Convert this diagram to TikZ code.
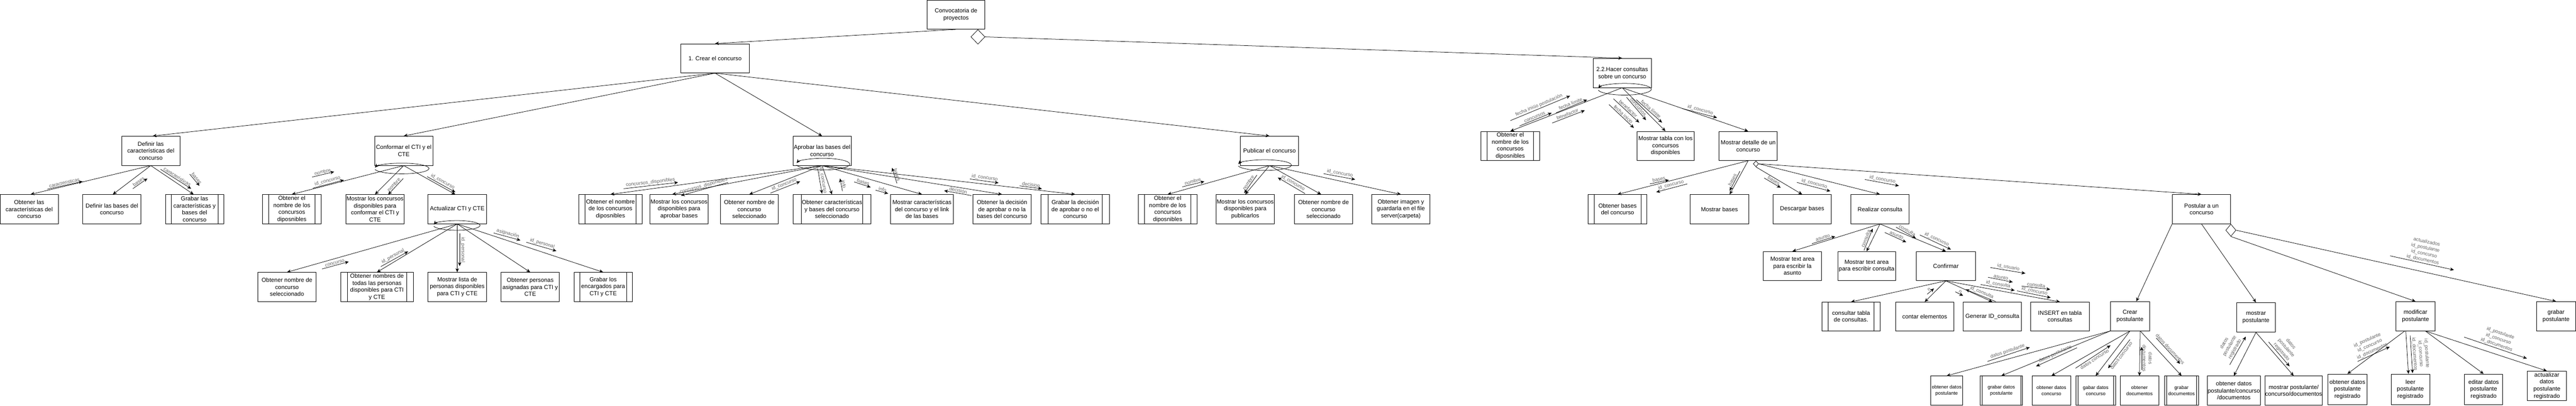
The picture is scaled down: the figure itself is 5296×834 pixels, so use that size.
\documentclass[tikz,border=0pt]{standalone}
\usepackage{fontspec}
\setmainfont{Liberation Sans}
\usetikzlibrary{arrows.meta,shapes.geometric}
\tikzset{
  box/.style={draw, line width=0.8pt, align=center, inner sep=0pt, font=\fontsize{12}{14.4}\selectfont},
  sbox/.style={box, font=\fontsize{10}{13}\selectfont},
  proc/.style={box, path picture={\draw[line width=0.8pt] ([xshift=#1]path picture bounding box.north west) -- ([xshift=#1]path picture bounding box.south west) ([xshift=-#1]path picture bounding box.north east) -- ([xshift=-#1]path picture bounding box.south east);}},
  proc/.default=12pt,
  conn/.style={line width=0.8pt, -{Stealth[length=8pt,width=7pt,inset=2.5pt]}},
  flowarr/.style={line width=0.8pt, -{Stealth[length=8pt,width=7pt,inset=2.5pt]}},
  flowrev/.style={line width=0.8pt, {Stealth[length=8pt,width=7pt,inset=2.5pt]}-},
  flowlbl/.style={font=\fontsize{10}{12.5}\selectfont, text=black!62, inner sep=1.5pt, align=center},
  dia/.style={diamond, draw, line width=0.8pt, inner sep=0pt, fill=white, anchor=north},
}
\NewDocumentCommand\mkbox{O{box} m m m m m m}{%
  \pgfmathsetmacro\bxcx{(#3+#5)/2}%
  \pgfmathsetmacro\bxcy{(#4+#6)/2}%
  \pgfmathsetmacro\bxw{#5-#3}%
  \pgfmathsetmacro\bxh{#6-#4}%
  \node[#1, minimum width=\bxw pt, minimum height=\bxh pt] (#2) at (\bxcx,\bxcy) {#7};}
\NewDocumentCommand\flw{O{flowarr} O{} m m m m}{%
  \coordinate (#3a) at (#4); \coordinate (#3b) at (#5);
  \draw[#1] (#3a) -- node[flowlbl, sloped, above, #2] {#6} (#3b);}
\NewDocumentCommand\iter{m m m m m}{%
  \draw[flowarr] ([shift={(#2,#3)}]#1.south) ++(170:#4 and #5) arc[start angle=170, end angle=-170, x radius=#4, y radius=#5];}
\begin{document}
\begin{tikzpicture}[x=1pt, y=-1pt]
\useasboundingbox (0,0) rectangle (5296,834);
% ---------- boxes ----------
\mkbox{root}{1906}{0}{2025}{60}{Convocatoria de\\proyectos}
\mkbox{crear}{1400}{90}{1540}{150}{1. Crear el concurso}
\mkbox{defcar}{250}{280}{370}{340}{Definir las\\características del\\concurso}
\mkbox{obtcar}{0}{400}{120}{460}{Obtener las\\características del\\concurso}
\mkbox{defbas}{170}{400}{290}{460}{Definir las bases del\\concurso}
\mkbox[proc]{grabcar}{340}{400}{460}{460}{Grabar las\\características y\\bases del\\concurso}
\mkbox{conf}{770}{280}{890}{340}{Conformar el CTI y el\\CTE}
\mkbox[proc]{confobt}{540}{400}{660}{460}{Obtener el\\nombre de los\\concursos\\diposnibles}
\mkbox{confmos}{711}{400}{831}{460}{Mostrar los concursos\\disponibles para\\conformar el CTI y\\CTE}
\mkbox{act}{880}{400}{1000}{460}{Actualizar CTI y CTE}
\mkbox{actobt}{530}{560}{650}{620}{Obtener nombre de\\concurso\\seleccionado}
\mkbox[proc=14pt]{actnom}{700}{560}{850}{620}{Obtener nombres de\\todas las personas\\disponibles para CTI\\y CTE}
\mkbox{actmos}{880}{560}{1000}{620}{Mostrar lista de\\personas disponibles\\para CTI y CTE}
\mkbox{actasg}{1030}{560}{1150}{620}{Obtener personas\\asignadas para CTI y\\CTE}
\mkbox[proc]{actgrab}{1180}{560}{1300}{620}{Grabar los\\encargados para\\CTI y CTE}
\mkbox{apr}{1630}{280}{1750}{340}{Aprobar las bases del\\concurso}
\mkbox[proc=13pt]{aprobt}{1190}{400}{1320}{460}{Obtener el nombre\\de los concursos\\diposnibles}
\mkbox{aprmos}{1336}{400}{1456}{460}{Mostrar los concursos\\disponibles para\\aprobar bases}
\mkbox{aprsel}{1481}{400}{1600}{460}{Obtener nombre de\\concurso\\seleccionado}
\mkbox[proc=16pt]{aprcar}{1631}{400}{1790}{460}{Obtener características\\y bases del concurso\\seleccionado}
\mkbox{aprmcar}{1831}{400}{1960}{460}{Mostrar características\\del concurso y el link\\de las bases}
\mkbox{aprdec}{2000}{400}{2120}{460}{Obtener la decisión\\de aprobar o no la\\bases del concurso}
\mkbox[proc=15pt]{aprgrab}{2140}{400}{2281}{460}{Grabar la decisión\\de aprobar o no el\\concurso}
\mkbox{pub}{2550}{280}{2670}{340}{Publicar el concurso}
\mkbox[proc=13pt]{pubobt}{2340}{400}{2461}{460}{Obtener el\\nombre de los\\concursos\\diposnibles}
\mkbox{pubmos}{2500}{400}{2620}{460}{Mostrar los concursos\\disponibles para\\publicarlos}
\mkbox{pubsel}{2661}{400}{2781}{460}{Obtener nombre de\\concurso\\seleccionado}
\mkbox{pubimg}{2820}{400}{2940}{460}{Obtener imagen y\\guardarla en el file\\server(carpeta)}
\mkbox{hac}{3275}{120}{3395}{180}{2.2.Hacer consultas\\sobre un concurso}
\mkbox[proc]{hacobt}{3045}{270}{3165}{330}{Obtener el\\nombre de los\\concursos\\diposnibles}
\mkbox{hactab}{3365}{270}{3483}{330}{Mostrar tabla con los\\concursos\\disponibles}
\mkbox{det}{3534}{270}{3654}{330}{Mostrar detalle de un\\concurso}
\mkbox[proc]{detobt}{3265}{400}{3386}{460}{Obtener bases\\del concurso}
\mkbox{detmos}{3475}{400}{3595}{460}{Mostrar bases}
\mkbox{detdes}{3645}{400}{3765}{460}{Descargar bases}
\mkbox{rea}{3805}{400}{3925}{460}{Realizar consulta}
\mkbox{reaasu}{3625}{517}{3745}{577}{Mostrar text area\\para escribir la\\asunto}
\mkbox{reacon}{3778}{517}{3897}{577}{Mostrar text area\\para escribir consulta}
\mkbox{cnf}{3940}{517}{4061}{577}{Confirmar}
\mkbox[proc]{cnftab}{3746}{621}{3865}{680}{consultar tabla\\de consultas.}
\mkbox{cnfcnt}{3897}{621}{4017}{680}{contar elementos}
\mkbox{cnfgen}{4036}{621}{4156}{680}{Generar ID\_consulta}
\mkbox{cnfins}{4175}{621}{4295}{680}{INSERT en tabla\\consultas}
\mkbox{pos}{4466}{400}{4586}{460}{Postular a un\\concurso}
\mkbox{crp}{4339}{620}{4419}{680}{Crear\\postulante}
\mkbox{mop}{4598}{622}{4678}{683}{mostrar\\postulante}
\mkbox{mod}{4926}{620}{5006}{680}{modificar\\postulante}
\mkbox{grp}{5215}{620}{5295}{680}{grabar\\postulante}
\mkbox[sbox]{crp1}{3969}{773}{4035}{833}{obtener datos\\postulante}
\mkbox[proc=4pt,sbox]{crp2}{4071}{773}{4158}{833}{grabar datos\\postulante}
\mkbox[sbox]{crp3}{4178}{773}{4257}{833}{obtener datos\\concurso}
\mkbox[proc=4pt,sbox]{crp4}{4268}{773}{4349}{833}{gabar datos\\concurso}
\mkbox[sbox]{crp5}{4359}{773}{4438}{833}{obtener\\documentos}
\mkbox[proc=4pt,sbox]{crp6}{4450}{773}{4520}{833}{grabar\\documentos}
\mkbox{mop1}{4538}{773}{4647}{833}{obtener datos\\postulante/concurso\\/documentos}
\mkbox{mop2}{4658}{773}{4773}{833}{mostrar postulante/\\concurso/documentos}
\mkbox{mod1}{4786}{769}{4866}{832}{obtener datos\\postulante\\registrado}
\mkbox{mod2}{4916}{769}{4995}{832}{leer\\postulante\\registrado}
\mkbox{mod3}{5067}{769}{5145}{832}{editar datos\\postulante\\registrado}
\mkbox{mod4}{5196}{763}{5276}{823}{actualizar\\datos\\postulante\\registrado}
% diamonds
\node[dia, minimum width=29pt, minimum height=30pt] (rd) at ([xshift=45pt]root.south) {};
\node[dia, minimum width=11pt, minimum height=12pt] (dd) at ([xshift=16pt]det.south) {};
\node[dia, minimum width=21pt, minimum height=25pt] (pd) at (pos.south east) {};
% ---------- connectors ----------
\draw[conn] (root.south) -- (crear.north);
\draw[conn] (rd.east) -- (hac.north);
\draw[conn] (crear.south) -- ([xshift=4pt]defcar.north);
\draw[conn] (crear.south) -- (conf.north);
\draw[conn] (crear.south) -- (apr.north);
\draw[conn] (crear.south) -- (pub.north);
\draw[conn] (defcar.south) -- ([xshift=3pt]obtcar.north);
\draw[conn] (defcar.south) -- ([xshift=2pt]defbas.north);
\draw[conn] (defcar.south) -- ([xshift=-2pt]grabcar.north);
\draw[conn] (conf.south) -- (confobt.north);
\draw[conn] (conf.south) -- (confmos.north);
\draw[conn] (conf.south) -- ([xshift=-4pt]act.north);
\draw[conn] (act.south) -- (actobt.north);
\draw[conn] (act.south) -- (actnom.north);
\draw[conn] (act.south) -- (actmos.north);
\draw[conn] (act.south) -- (actasg.north);
\draw[conn] (act.south) -- (actgrab.north);
\draw[conn] (apr.south) -- (aprobt.north);
\draw[conn] (apr.south) -- ([xshift=-14pt]aprmos.north);
\draw[conn] (apr.south) -- (aprsel.north);
\draw[conn] (apr.south) -- (aprcar.north);
\draw[conn] (apr.south) -- (aprmcar.north);
\draw[conn] (apr.south) -- (aprdec.north);
\draw[conn] (apr.south) -- (aprgrab.north);
\draw[conn] (pub.south) -- (pubobt.north);
\draw[conn] (pub.south) -- (pubmos.north);
\draw[conn] (pub.south) -- ([xshift=-5pt]pubsel.north);
\draw[conn] (pub.south) -- (pubimg.north);
\draw[conn] (hac.south) -- (hacobt.north);
\draw[conn] (hac.south) -- (hactab.north);
\draw[conn] (hac.south) -- (det.north);
\draw[conn] (det.south) -- (detobt.north);
\draw[conn] (det.south) -- ([xshift=21pt]detmos.north);
\draw[conn] (dd.south) -- (detdes.north);
\draw[conn] (dd.east) -- (rea.north);
\draw[conn] (dd.east) -- (pos.north);
\draw[conn] (rea.south) -- (reaasu.north);
\draw[conn] (rea.south) -- (reacon.north);
\draw[conn] (rea.south) -- (cnf.north);
\draw[conn] (cnf.south) -- (cnftab.north);
\draw[conn] (cnf.south) -- (cnfcnt.north);
\draw[conn] (cnf.south) -- (cnfgen.north);
\draw[conn] (cnf.south) -- (cnfins.north);
\draw[conn] (pos.south west) -- ([xshift=13pt]crp.north);
\draw[conn] (pos.south) -- (mop.north);
\draw[conn] (pd.south) -- (mod.north);
\draw[conn] (pd.east) -- (grp.north);
\draw[conn] (crp.south west) -- (crp1.north);
\draw[conn] (crp.south west) -- (crp2.north);
\draw[conn] (crp.south) -- (crp3.north);
\draw[conn] (crp.south) -- (crp4.north);
\draw[conn] ([xshift=21pt]crp.south) -- (crp5.north);
\draw[conn] ([xshift=21pt]crp.south) -- (crp6.north);
\draw[conn] (mop.south) -- (mop1.north);
\draw[conn] (mop.south) -- (mop2.north);
\draw[conn] ([xshift=-22pt]mod.south) -- (mod1.north);
\draw[conn] ([xshift=-20pt]mod.south) -- ([xshift=-4pt]mod2.north);
\draw[conn] ([xshift=20pt]mod.south) -- (mod3.north);
\draw[conn] ([xshift=20pt]mod.south) -- (mod4.north);
% ---------- iteration loops ----------
\iter{conf}{-4}{6}{56}{11}
\iter{act}{-1}{3}{48}{10}
\iter{apr}{2}{-3}{55}{12}
\iter{pub}{-10}{-1}{55}{11}
\iter{hac}{5}{3}{55}{12}
% ---------- data flows ----------
\flw{fa}{97,389}{170,373}{caracteristicas}
\flw{fb}{273,388}{303,367}{bases}
\flw{fc}{330,348}{393,388}{caracteristicas}
\flw{fd}{390,358}{410,382}{bases}
\flw{fe}{642,364}{687,353}{nombre}
\flw{ff}{643,387}{707,370}{id\_concurso}
\flw{fg}{829,367}{798,400}{nombre}
\flw{fh}{878,363}{936,395}{id\_concurso}
\flw{fi}{662,553}{717,538}{concurso}
\flw{fj}{783,548}{839,517}{id\_personal}
\flw{fk}{945,480}{945,547}{id\_personal}
\flw{fl}{1015,479}{1070,494}{asignación}
\flw{fm}{1082,498}{1144,516}{id\_personal}
\flw{fn}{1282,388}{1394,375}{concursos\_disponibles}
\flw{fo}{1497,375}{1400,402}{concursos\_disponibles}
\flw{fp}{1584,397}{1645,373}{id\_concurso}
\flw{fq}{1681,346}{1690,398}{id\_concurso}
\flw{fr}{1732,393}{1727,367}{info}
\flw{fs}{1756,374}{1790,385}{bases}
\flw{ft}{1800,391}{1826,398}{info}
\flw{fu}{1844,377}{1834,345}{bases}
\flw{fv}{1997,402}{1941,392}{decisión}
\flw{fw}{1994,368}{2053,376}{id\_concurso}
\flw{fx}{2096,382}{2142,388}{decision}
\flw{ga}{2431,384}{2476,373}{nombre}
\flw{gb}{2584,360}{2558,397}{nombre}
\flw{gc}{2683,398}{2627,365}{id\_concurso}
\flw{gd}{2721,357}{2786,369}{id\_concurso}
\flw{ge}{3105,248}{3228,197}{fecha inicio postulación}
\flw{gf}{3124,259}{3190,232}{concursos}
\flw{gg}{3199,232}{3263,205}{fecha límite}
\flw{gh}{3191,253}{3258,227}{benefactor}
\flw{gi}{3344,200}{3384,247}{concursos}
\flw{gj}{3317,203}{3370,252}{benefactor}
\flw{gk}{3308,215}{3359,263}{fecha inicio}
\flw{gl}{3364,205}{3417,252}{fecha límite}
\flw{gm}{3458,223}{3530,242}{id\_concurso}
\flw{gn}{3392,378}{3431,370}{bases}
\flw{go}{3469,378}{3405,395}{id\_concurso}
\flw{gp}{3577,352}{3556,392}{bases}
\flw{gq}{3627,366}{3661,386}{bases}
\flw{gr}{3694,375}{3763,393}{id\_concurso}
\flw{gs}{3834,369}{3904,382}{id\_concurso}
\flw{gt}{3725,501}{3773,486}{asunto}
\flw{gu}{3832,515}{3850,470}{consulta}
\flw{gv}{3898,467}{3939,490}{consulta}
\flw{gw}{3875,478}{3919,498}{asunto}
\flw{gx}{3947,483}{4011,513}{id\_concurso}
\flw{ha}{3962,605}{3976,593}{n}
\flw{hb}{4020,600}{4036,608}{n}
\flw{hc}{4103,620}{4041,595}{id\_consulta}
\flw{hd}{4092,550}{4164,562}{id\_usuario}
\flw{he}{4087,570}{4138,580}{asunto}
\flw{hf}{4072,585}{4142,597}{id\_consulta}
\flw{hg}{4156,588}{4215,595}{consulta}
\flw{hh}{4147,598}{4216,612}{id\_concurso}
\flw{hi}{4914,526}{5045,555}{actualizados\\id\_postulante\\id\_concurso\\id\_documentos}
\flw{hj}{4086,743}{4173,714}{datos postulante}
\flw{hk}{4270,715}{4186,753}{datos postulante}
\flw[flowarr][below]{hl}{4267,757}{4339,710}{datos concurso}
\flw[flowarr][below]{hm}{4379,698}{4334,757}{datos concurso}
\flw[flowrev]{hn}{4403,713}{4403,760}{datos\\documentos}
\flw{ho}{4433,695}{4482,748}{datos documentos}
\flw{hp}{4584,750}{4617,692}{datos\\postulante\\registrado}
\flw{hq}{4664,703}{4707,753}{datos\\postulante\\registrado}
\flw{hr}{4847,743}{4913,713}{id\_postulante\\id\_concurso\\id\_documentos}
\flw{hs}{4955,690}{4960,767}{id\_postulante\\id\_concurso\\id\_documentos}
\flw{ht}{5066,693}{5195,737}{id\_postulante\\id\_concurso\\id\_documentos}
\end{tikzpicture}
\end{document}
